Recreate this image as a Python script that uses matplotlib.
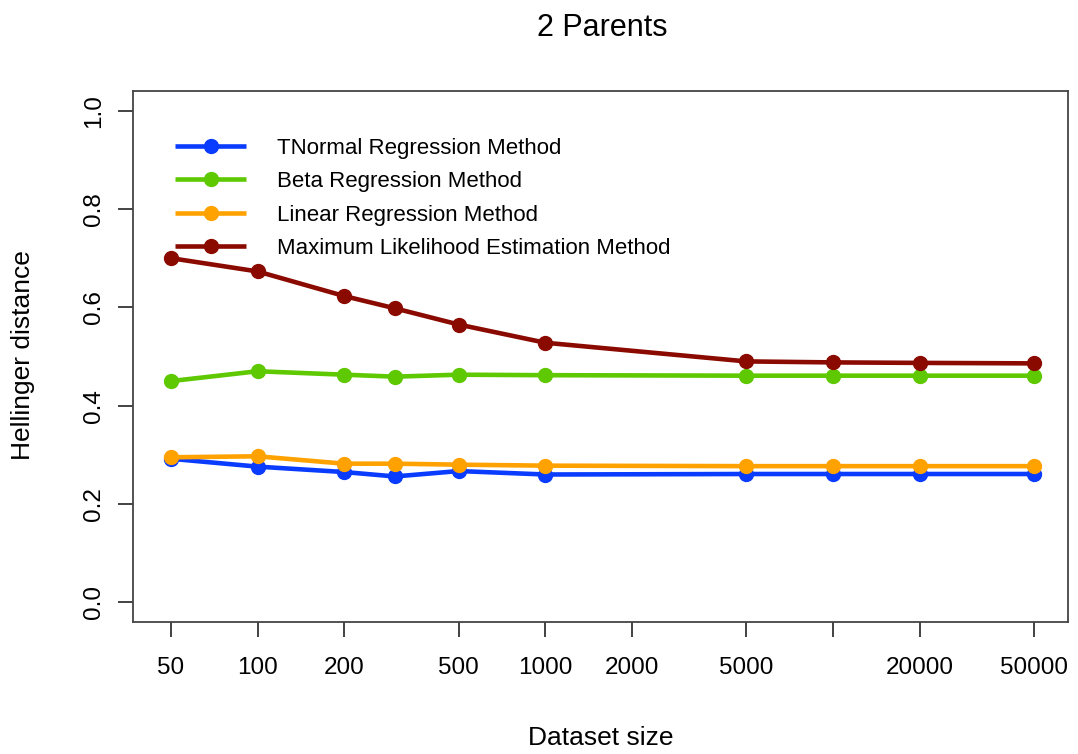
import matplotlib
matplotlib.use("Agg")
import matplotlib.pyplot as plt

plt.rcParams["font.family"] = ["Liberation Sans", "DejaVu Sans"]

# dataset sizes and Hellinger distance per method
sizes = [50, 100, 200, 300, 500, 1000, 5000, 10000, 20000, 50000]
tnormal = [0.292, 0.276, 0.265, 0.256, 0.267, 0.260, 0.261, 0.261, 0.261, 0.261]
beta = [0.450, 0.470, 0.463, 0.459, 0.463, 0.462, 0.461, 0.461, 0.461, 0.461]
linear = [0.295, 0.297, 0.282, 0.282, 0.280, 0.278, 0.277, 0.277, 0.277, 0.277]
mle = [0.700, 0.673, 0.623, 0.598, 0.565, 0.528, 0.490, 0.488, 0.487, 0.486]

xticks = [50, 100, 200, 500, 1000, 2000, 5000, 10000, 20000, 50000]
xticklabels = ["50", "100", "200", "500", "1000", "2000", "5000", "", "20000", "50000"]
yticks = [0.0, 0.2, 0.4, 0.6, 0.8, 1.0]

series = [("TNormal Regression Method", tnormal, "#0a3cff"),
          ("Beta Regression Method", beta, "#5ec800"),
          ("Linear Regression Method", linear, "#ffa200"),
          ("Maximum Likelihood Estimation Method", mle, "#8b0a00")]

fig = plt.figure(figsize=(10.78, 7.54), dpi=100)
ax = fig.add_axes([133 / 1078, 1 - 622 / 754, 935 / 1078, 531 / 754])

for name, vals, color in series:
    ax.plot(sizes, vals, color=color, linewidth=3.3, marker="o", markersize=10,
            label=name, solid_capstyle="butt")

ax.set_xscale("log")
ax.set_xlim(36.9, 65600)
ax.set_ylim(-0.04, 1.04)
ax.set_xticks(xticks)
ax.set_xticklabels(xticklabels)
ax.minorticks_off()
ax.set_yticks(yticks)
ax.set_yticklabels([f"{v:.1f}" for v in yticks], rotation=90, va="center")
ax.tick_params(axis="both", direction="out", length=11, width=1.2,
               color="#222222", labelsize=17.5)
ax.tick_params(axis="x", pad=14)
ax.tick_params(axis="y", pad=9)

for sp in ax.spines.values():
    sp.set_linewidth(1.3)
    sp.set_color("#444444")

leg = ax.legend(loc="upper left", bbox_to_anchor=(0.045, 0.912), frameon=False,
                fontsize=16, handlelength=3.2, handletextpad=1.4,
                labelspacing=0.56, borderpad=0, borderaxespad=0)

fig.text(602 / 1078, 1 - 28 / 754, "2 Parents", ha="center", va="center", fontsize=22)
fig.text(601 / 1078, 1 - 738 / 754, "Dataset size", ha="center", va="center", fontsize=19)
fig.text(23 / 1078, 1 - 355 / 754, "Hellinger distance", ha="center", va="center",
         rotation=90, fontsize=19)

fig.savefig("out.png", dpi=100)
